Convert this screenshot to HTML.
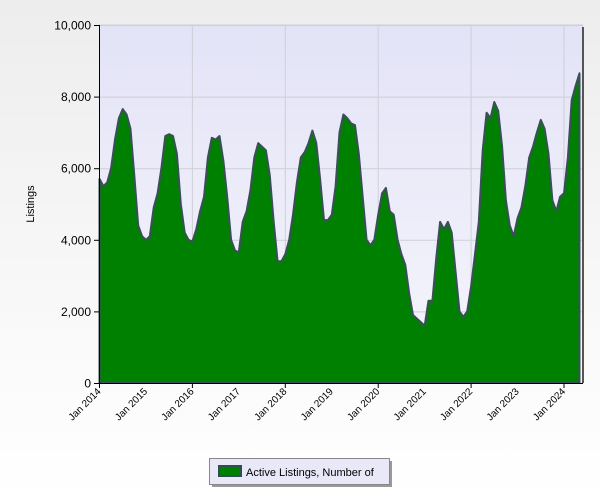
<!DOCTYPE html>
<html><head><meta charset="utf-8"><style>
html,body{margin:0;padding:0;}
body{width:600px;height:500px;background:linear-gradient(#ededed,#fafafa 70%,#fff);font-family:"Liberation Sans",sans-serif;overflow:hidden;}
</style></head><body>
<svg id="s" width="600" height="500" xmlns="http://www.w3.org/2000/svg" style="position:absolute;left:0;top:0">
<defs>
<linearGradient id="bg" x1="0" y1="0" x2="0" y2="1"><stop offset="0" stop-color="#e3e3f7"/><stop offset="1" stop-color="#f6f6fc"/></linearGradient>
</defs>
<rect x="99.5" y="25" width="483" height="358" fill="url(#bg)" stroke="#cfcfd6"/>
<g id="grid" stroke="#cfcfd6" stroke-width="1"></g>
<path id="area" fill="#008000" stroke="#3a4f58" stroke-width="2" stroke-linejoin="round"/>
<line x1="583" y1="27" x2="583" y2="383" stroke="#555" stroke-width="2"/>
<line x1="99.5" y1="25" x2="99.5" y2="383.5" stroke="#000"/>
<line x1="99.5" y1="383.5" x2="583" y2="383.5" stroke="#000"/>
<g id="ticks" stroke="#000"></g>
<g id="lbl" font-size="12" fill="#000"></g>
<text x="34" y="204" font-size="11" transform="rotate(-90 34 204)" text-anchor="middle">Listings</text>
<rect x="212" y="461" width="180" height="26" fill="#999"/>
<rect x="209.5" y="458.5" width="180" height="26" fill="#e8e8f8" stroke="#888"/>
<rect x="219" y="466" width="22" height="10" fill="#008000" stroke="#2f4f4f" stroke-width="2"/>
<text x="246" y="476" font-size="11">Active Listings, Number of</text>
</svg>
<script>
var v=[5700,5500,5600,6000,6800,7400,7650,7500,7100,5800,4400,4100,
4000,4100,4900,5300,6000,6900,6950,6900,6400,5000,4200,4000,
3950,4300,4800,5200,6300,6850,6800,6900,6200,5200,4000,3700,
3650,4500,4800,5400,6300,6700,6600,6500,5800,4500,3400,3400,
3600,4000,4700,5600,6300,6450,6700,7050,6700,5700,4550,4550,
4700,5500,7000,7500,7400,7250,7200,6400,5200,4000,3850,4000,
4700,5300,5450,4800,4700,4000,3600,3300,2500,1900,1800,1700,
1600,2300,2300,3500,4500,4300,4500,4200,3100,2000,1850,2000,
2700,3600,4500,6500,7550,7400,7850,7600,6600,5100,4400,4100,
4600,4900,5500,6300,6600,7000,7350,7100,6400,5100,4800,5200,
5300,6300,7900,8300,8650];
var X=function(i){return 99.5+i*46.45/12;},Y=function(a){return 383-a*0.0358;};
var d="M99.5 383";for(var i=0;i<v.length;i++)d+=" L"+X(i).toFixed(1)+" "+Y(v[i]).toFixed(1);
d+=" L"+X(v.length-1).toFixed(1)+" 383 Z";
document.getElementById("area").setAttribute("d",d);
var ns="http://www.w3.org/2000/svg",g=document.getElementById("grid"),t=document.getElementById("ticks"),l=document.getElementById("lbl");
function el(p,n,a,txt){var e=document.createElementNS(ns,n);for(var k in a)e.setAttribute(k,a[k]);if(txt)e.textContent=txt;p.appendChild(e);}
for(var k=1;k<=5;k++){var y=Y(k*2000)+0.5;el(g,"line",{x1:99.5,x2:582,y1:y,y2:y});}
for(var k=0;k<=5;k++){var y=Y(k*2000)+0.5;el(t,"line",{x1:94,x2:99.5,y1:y,y2:y});
el(l,"text",{x:91,y:y+4,"text-anchor":"end"},(k*2).toString()+(k?",000":""));}
for(var yr=0;yr<=10;yr++){var x=99.5+yr*46.45;
if(yr%2==0){if(yr>0)el(g,"line",{x1:x,x2:x,y1:25,y2:383});el(t,"line",{x1:x,x2:x,y1:383,y2:388});}
el(l,"text",{x:x+2,y:392,"font-size":"10","text-anchor":"end",transform:"rotate(-45 "+(x+2)+" 392)"},"Jan "+(2014+yr));}
</script>
</body></html>
